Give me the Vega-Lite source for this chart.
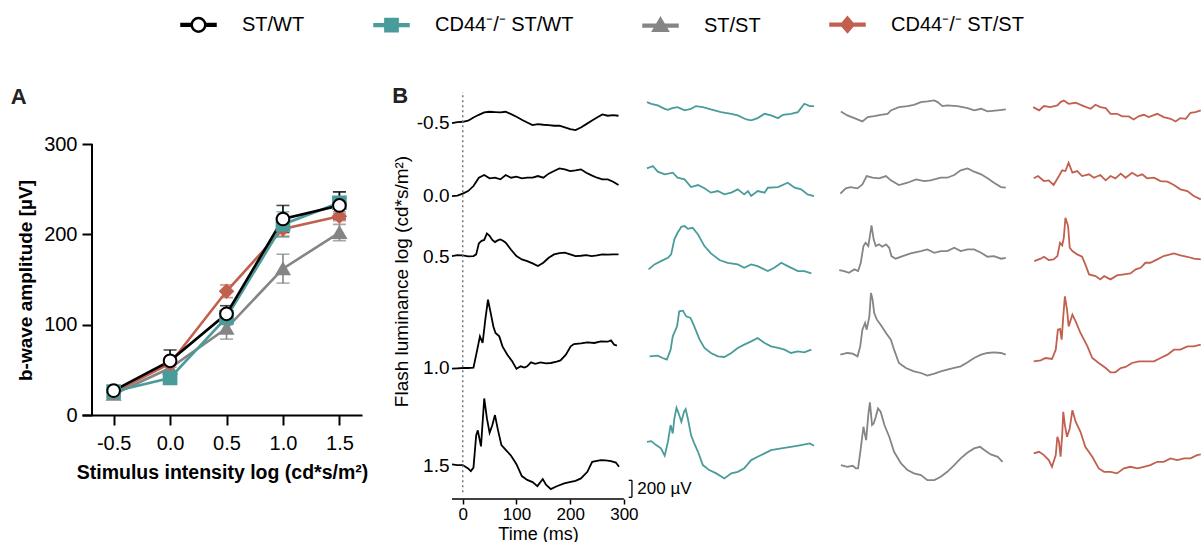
{
  "$schema": "https://vega.github.io/schema/vega-lite/v6.json",
  "background": "white",
  "padding": {"left": 10, "top": 6, "right": 0, "bottom": 0},
  "config": {
    "view": {"stroke": null},
    "font": "Liberation Sans",
    "axis": {"labelColor": "black", "titleColor": "black", "domainColor": "black", "tickColor": "black", "grid": false},
    "title": {"color": "#222222"}
  },
  "datasets": {
    "bwave": [
      {"genotype": "ST/ST", "intensity": -0.5, "mean": 23, "sem": 3},
      {"genotype": "ST/ST", "intensity": 0, "mean": 52, "sem": 5},
      {"genotype": "ST/ST", "intensity": 0.5, "mean": 96, "sem": 12},
      {"genotype": "ST/ST", "intensity": 1, "mean": 162, "sem": 16},
      {"genotype": "ST/ST", "intensity": 1.5, "mean": 202, "sem": 9},
      {"genotype": "CD44⁻/⁻ ST/ST", "intensity": -0.5, "mean": 25, "sem": 2},
      {"genotype": "CD44⁻/⁻ ST/ST", "intensity": 0, "mean": 57, "sem": 4},
      {"genotype": "CD44⁻/⁻ ST/ST", "intensity": 0.5, "mean": 137, "sem": 7},
      {"genotype": "CD44⁻/⁻ ST/ST", "intensity": 1, "mean": 206, "sem": 8},
      {"genotype": "CD44⁻/⁻ ST/ST", "intensity": 1.5, "mean": 220, "sem": 5},
      {"genotype": "CD44⁻/⁻ ST/WT", "intensity": -0.5, "mean": 26, "sem": 3},
      {"genotype": "CD44⁻/⁻ ST/WT", "intensity": 0, "mean": 41, "sem": 4},
      {"genotype": "CD44⁻/⁻ ST/WT", "intensity": 0.5, "mean": 108, "sem": 8},
      {"genotype": "CD44⁻/⁻ ST/WT", "intensity": 1, "mean": 211, "sem": 14},
      {"genotype": "CD44⁻/⁻ ST/WT", "intensity": 1.5, "mean": 235, "sem": 12},
      {"genotype": "ST/WT", "intensity": -0.5, "mean": 27, "sem": 3},
      {"genotype": "ST/WT", "intensity": 0, "mean": 60, "sem": 12},
      {"genotype": "ST/WT", "intensity": 0.5, "mean": 112, "sem": 9},
      {"genotype": "ST/WT", "intensity": 1, "mean": 217, "sem": 15},
      {"genotype": "ST/WT", "intensity": 1.5, "mean": 232, "sem": 15}
    ],
    "scalebar": [
      {"label": "200 µV", "amplitude": 200}
    ],
    "stwt": [
      {"intensity":-0.5,"time":-20,"uV":-12},{"intensity":-0.5,"time":-10,"uV":0},{"intensity":-0.5,"time":0,"uV":4},{"intensity":-0.5,"time":10,"uV":16},{"intensity":-0.5,"time":20,"uV":55},{"intensity":-0.5,"time":30,"uV":86},{"intensity":-0.5,"time":40,"uV":114},{"intensity":-0.5,"time":50,"uV":122},{"intensity":-0.5,"time":60,"uV":118},{"intensity":-0.5,"time":70,"uV":114},{"intensity":-0.5,"time":80,"uV":122},{"intensity":-0.5,"time":90,"uV":94},{"intensity":-0.5,"time":100,"uV":63},{"intensity":-0.5,"time":110,"uV":28},{"intensity":-0.5,"time":120,"uV":-4},{"intensity":-0.5,"time":130,"uV":-35},{"intensity":-0.5,"time":140,"uV":-24},{"intensity":-0.5,"time":150,"uV":-31},{"intensity":-0.5,"time":160,"uV":-35},{"intensity":-0.5,"time":170,"uV":-43},{"intensity":-0.5,"time":180,"uV":-43},{"intensity":-0.5,"time":190,"uV":-63},{"intensity":-0.5,"time":200,"uV":-83},{"intensity":-0.5,"time":210,"uV":-94},{"intensity":-0.5,"time":220,"uV":-63},{"intensity":-0.5,"time":230,"uV":-24},{"intensity":-0.5,"time":240,"uV":16},{"intensity":-0.5,"time":250,"uV":55},{"intensity":-0.5,"time":260,"uV":90},{"intensity":-0.5,"time":270,"uV":75},{"intensity":-0.5,"time":280,"uV":83},{"intensity":-0.5,"time":290,"uV":75},
      {"intensity":0,"time":-20,"uV":-12},{"intensity":0,"time":-10,"uV":-8},{"intensity":0,"time":0,"uV":16},{"intensity":0,"time":10,"uV":47},{"intensity":0,"time":20,"uV":106},{"intensity":0,"time":30,"uV":204},{"intensity":0,"time":40,"uV":236},{"intensity":0,"time":50,"uV":197},{"intensity":0,"time":60,"uV":204},{"intensity":0,"time":70,"uV":185},{"intensity":0,"time":80,"uV":236},{"intensity":0,"time":90,"uV":204},{"intensity":0,"time":100,"uV":216},{"intensity":0,"time":110,"uV":197},{"intensity":0,"time":120,"uV":204},{"intensity":0,"time":130,"uV":204},{"intensity":0,"time":140,"uV":224},{"intensity":0,"time":150,"uV":204},{"intensity":0,"time":160,"uV":252},{"intensity":0,"time":170,"uV":283},{"intensity":0,"time":180,"uV":314},{"intensity":0,"time":190,"uV":303},{"intensity":0,"time":200,"uV":283},{"intensity":0,"time":210,"uV":291},{"intensity":0,"time":220,"uV":303},{"intensity":0,"time":230,"uV":263},{"intensity":0,"time":240,"uV":232},{"intensity":0,"time":250,"uV":204},{"intensity":0,"time":260,"uV":185},{"intensity":0,"time":270,"uV":185},{"intensity":0,"time":280,"uV":157},{"intensity":0,"time":290,"uV":118},
      {"intensity":0.5,"time":-20,"uV":0},{"intensity":0.5,"time":-10,"uV":10},{"intensity":0.5,"time":0,"uV":8},{"intensity":0.5,"time":10,"uV":-4},{"intensity":0.5,"time":20,"uV":0},{"intensity":0.5,"time":25,"uV":20},{"intensity":0.5,"time":30,"uV":150},{"intensity":0.5,"time":35,"uV":180},{"intensity":0.5,"time":40,"uV":190},{"intensity":0.5,"time":45,"uV":267},{"intensity":0.5,"time":50,"uV":240},{"intensity":0.5,"time":55,"uV":190},{"intensity":0.5,"time":60,"uV":165},{"intensity":0.5,"time":65,"uV":185},{"intensity":0.5,"time":70,"uV":196},{"intensity":0.5,"time":75,"uV":180},{"intensity":0.5,"time":80,"uV":157},{"intensity":0.5,"time":90,"uV":75},{"intensity":0.5,"time":100,"uV":0},{"intensity":0.5,"time":110,"uV":-40},{"intensity":0.5,"time":120,"uV":-60},{"intensity":0.5,"time":130,"uV":-86},{"intensity":0.5,"time":140,"uV":-118},{"intensity":0.5,"time":150,"uV":-78},{"intensity":0.5,"time":160,"uV":-20},{"intensity":0.5,"time":170,"uV":20},{"intensity":0.5,"time":180,"uV":35},{"intensity":0.5,"time":190,"uV":40},{"intensity":0.5,"time":200,"uV":20},{"intensity":0.5,"time":210,"uV":0},{"intensity":0.5,"time":220,"uV":4},{"intensity":0.5,"time":230,"uV":10},{"intensity":0.5,"time":240,"uV":0},{"intensity":0.5,"time":250,"uV":8},{"intensity":0.5,"time":260,"uV":20},{"intensity":0.5,"time":270,"uV":16},{"intensity":0.5,"time":280,"uV":20},{"intensity":0.5,"time":290,"uV":20},
      {"intensity":1,"time":-20,"uV":-8},{"intensity":1,"time":-10,"uV":-4},{"intensity":1,"time":0,"uV":0},{"intensity":1,"time":10,"uV":0},{"intensity":1,"time":20,"uV":4},{"intensity":1,"time":27,"uV":216},{"intensity":1,"time":32,"uV":373},{"intensity":1,"time":37,"uV":295},{"intensity":1,"time":42,"uV":570},{"intensity":1,"time":47,"uV":805},{"intensity":1,"time":52,"uV":650},{"intensity":1,"time":57,"uV":490},{"intensity":1,"time":61,"uV":413},{"intensity":1,"time":68,"uV":373},{"intensity":1,"time":74,"uV":255},{"intensity":1,"time":83,"uV":157},{"intensity":1,"time":92,"uV":79},{"intensity":1,"time":100,"uV":-10},{"intensity":1,"time":108,"uV":20},{"intensity":1,"time":115,"uV":5},{"intensity":1,"time":120,"uV":20},{"intensity":1,"time":127,"uV":67},{"intensity":1,"time":135,"uV":50},{"intensity":1,"time":145,"uV":67},{"intensity":1,"time":155,"uV":55},{"intensity":1,"time":164,"uV":59},{"intensity":1,"time":175,"uV":75},{"intensity":1,"time":182,"uV":90},{"intensity":1,"time":192,"uV":157},{"intensity":1,"time":201,"uV":255},{"intensity":1,"time":207,"uV":283},{"intensity":1,"time":220,"uV":290},{"intensity":1,"time":232,"uV":303},{"intensity":1,"time":245,"uV":295},{"intensity":1,"time":257,"uV":314},{"intensity":1,"time":270,"uV":310},{"intensity":1,"time":276,"uV":326},{"intensity":1,"time":282,"uV":275},{"intensity":1,"time":287,"uV":263},
      {"intensity":1.5,"time":-20,"uV":8},{"intensity":1.5,"time":-10,"uV":0},{"intensity":1.5,"time":0,"uV":0},{"intensity":1.5,"time":10,"uV":-40},{"intensity":1.5,"time":15,"uV":-71},{"intensity":1.5,"time":20,"uV":-30},{"intensity":1.5,"time":25,"uV":350},{"intensity":1.5,"time":28,"uV":410},{"intensity":1.5,"time":34,"uV":220},{"intensity":1.5,"time":40,"uV":786},{"intensity":1.5,"time":45,"uV":550},{"intensity":1.5,"time":50,"uV":380},{"intensity":1.5,"time":55,"uV":470},{"intensity":1.5,"time":60,"uV":590},{"intensity":1.5,"time":65,"uV":430},{"intensity":1.5,"time":72,"uV":235},{"intensity":1.5,"time":83,"uV":160},{"intensity":1.5,"time":90,"uV":110},{"intensity":1.5,"time":100,"uV":10},{"intensity":1.5,"time":110,"uV":-130},{"intensity":1.5,"time":120,"uV":-175},{"intensity":1.5,"time":130,"uV":-200},{"intensity":1.5,"time":139,"uV":-248},{"intensity":1.5,"time":149,"uV":-165},{"intensity":1.5,"time":155,"uV":-230},{"intensity":1.5,"time":164,"uV":-283},{"intensity":1.5,"time":175,"uV":-250},{"intensity":1.5,"time":189,"uV":-216},{"intensity":1.5,"time":201,"uV":-197},{"intensity":1.5,"time":210,"uV":-185},{"intensity":1.5,"time":220,"uV":-157},{"intensity":1.5,"time":232,"uV":-79},{"intensity":1.5,"time":241,"uV":39},{"intensity":1.5,"time":250,"uV":50},{"intensity":1.5,"time":257,"uV":59},{"intensity":1.5,"time":266,"uV":55},{"intensity":1.5,"time":276,"uV":47},{"intensity":1.5,"time":285,"uV":30},{"intensity":1.5,"time":291,"uV":-20}
    ],
    "cd44stwt": [
      {"intensity":-0.5,"time":-17,"uV":236},{"intensity":-0.5,"time":-9,"uV":216},{"intensity":-0.5,"time":3,"uV":197},{"intensity":-0.5,"time":16,"uV":157},{"intensity":-0.5,"time":22,"uV":145},{"intensity":-0.5,"time":30,"uV":165},{"intensity":-0.5,"time":40,"uV":177},{"intensity":-0.5,"time":53,"uV":138},{"intensity":-0.5,"time":65,"uV":157},{"intensity":-0.5,"time":74,"uV":189},{"intensity":-0.5,"time":87,"uV":177},{"intensity":-0.5,"time":102,"uV":149},{"intensity":-0.5,"time":121,"uV":118},{"intensity":-0.5,"time":140,"uV":98},{"intensity":-0.5,"time":152,"uV":79},{"intensity":-0.5,"time":168,"uV":31},{"intensity":-0.5,"time":177,"uV":20},{"intensity":-0.5,"time":189,"uV":47},{"intensity":-0.5,"time":202,"uV":98},{"intensity":-0.5,"time":214,"uV":79},{"intensity":-0.5,"time":227,"uV":47},{"intensity":-0.5,"time":236,"uV":86},{"intensity":-0.5,"time":251,"uV":98},{"intensity":-0.5,"time":264,"uV":118},{"intensity":-0.5,"time":276,"uV":216},{"intensity":-0.5,"time":286,"uV":189},{"intensity":-0.5,"time":294,"uV":189},
      {"intensity":0,"time":-17,"uV":314},{"intensity":0,"time":-6,"uV":342},{"intensity":0,"time":3,"uV":275},{"intensity":0,"time":16,"uV":244},{"intensity":0,"time":31,"uV":263},{"intensity":0,"time":40,"uV":204},{"intensity":0,"time":53,"uV":185},{"intensity":0,"time":65,"uV":94},{"intensity":0,"time":78,"uV":118},{"intensity":0,"time":90,"uV":79},{"intensity":0,"time":102,"uV":28},{"intensity":0,"time":115,"uV":47},{"intensity":0,"time":127,"uV":8},{"intensity":0,"time":140,"uV":28},{"intensity":0,"time":152,"uV":67},{"intensity":0,"time":164,"uV":8},{"intensity":0,"time":171,"uV":47},{"intensity":0,"time":177,"uV":-12},{"intensity":0,"time":189,"uV":47},{"intensity":0,"time":202,"uV":28},{"intensity":0,"time":208,"uV":86},{"intensity":0,"time":227,"uV":94},{"intensity":0,"time":245,"uV":145},{"intensity":0,"time":258,"uV":86},{"intensity":0,"time":270,"uV":67},{"intensity":0,"time":282,"uV":8},{"intensity":0,"time":294,"uV":-12},
      {"intensity":0.5,"time":-14,"uV":-157},{"intensity":0.5,"time":-3,"uV":-98},{"intensity":0.5,"time":9,"uV":-59},{"intensity":0.5,"time":22,"uV":-20},{"intensity":0.5,"time":28,"uV":20},{"intensity":0.5,"time":34,"uV":197},{"intensity":0.5,"time":40,"uV":275},{"intensity":0.5,"time":47,"uV":346},{"intensity":0.5,"time":53,"uV":354},{"intensity":0.5,"time":59,"uV":322},{"intensity":0.5,"time":68,"uV":334},{"intensity":0.5,"time":78,"uV":255},{"intensity":0.5,"time":90,"uV":118},{"intensity":0.5,"time":102,"uV":31},{"intensity":0.5,"time":118,"uV":-47},{"intensity":0.5,"time":133,"uV":-79},{"intensity":0.5,"time":152,"uV":-98},{"intensity":0.5,"time":164,"uV":-138},{"intensity":0.5,"time":177,"uV":-98},{"intensity":0.5,"time":189,"uV":-118},{"intensity":0.5,"time":208,"uV":-177},{"intensity":0.5,"time":220,"uV":-138},{"intensity":0.5,"time":233,"uV":-79},{"intensity":0.5,"time":245,"uV":-118},{"intensity":0.5,"time":264,"uV":-177},{"intensity":0.5,"time":276,"uV":-177},{"intensity":0.5,"time":289,"uV":-204},
      {"intensity":1,"time":-12,"uV":138},{"intensity":1,"time":3,"uV":145},{"intensity":1,"time":12,"uV":118},{"intensity":1,"time":20,"uV":98},{"intensity":1,"time":27,"uV":216},{"intensity":1,"time":31,"uV":373},{"intensity":1,"time":35,"uV":432},{"intensity":1,"time":39,"uV":491},{"intensity":1,"time":43,"uV":668},{"intensity":1,"time":50,"uV":676},{"intensity":1,"time":56,"uV":609},{"intensity":1,"time":64,"uV":590},{"intensity":1,"time":71,"uV":491},{"intensity":1,"time":81,"uV":334},{"intensity":1,"time":90,"uV":236},{"intensity":1,"time":102,"uV":177},{"intensity":1,"time":115,"uV":138},{"intensity":1,"time":127,"uV":130},{"intensity":1,"time":140,"uV":177},{"intensity":1,"time":152,"uV":236},{"intensity":1,"time":164,"uV":275},{"intensity":1,"time":177,"uV":314},{"intensity":1,"time":189,"uV":354},{"intensity":1,"time":202,"uV":295},{"intensity":1,"time":214,"uV":255},{"intensity":1,"time":227,"uV":236},{"intensity":1,"time":239,"uV":216},{"intensity":1,"time":251,"uV":177},{"intensity":1,"time":264,"uV":197},{"intensity":1,"time":276,"uV":185},{"intensity":1,"time":289,"uV":216},
      {"intensity":1.5,"time":-17,"uV":275},{"intensity":1.5,"time":-9,"uV":283},{"intensity":1.5,"time":0,"uV":236},{"intensity":1.5,"time":9,"uV":197},{"intensity":1.5,"time":16,"uV":110},{"intensity":1.5,"time":22,"uV":275},{"intensity":1.5,"time":27,"uV":472},{"intensity":1.5,"time":31,"uV":373},{"intensity":1.5,"time":34,"uV":550},{"intensity":1.5,"time":38,"uV":676},{"intensity":1.5,"time":43,"uV":590},{"intensity":1.5,"time":47,"uV":511},{"intensity":1.5,"time":52,"uV":629},{"intensity":1.5,"time":55,"uV":660},{"intensity":1.5,"time":59,"uV":550},{"intensity":1.5,"time":65,"uV":354},{"intensity":1.5,"time":71,"uV":255},{"intensity":1.5,"time":78,"uV":157},{"intensity":1.5,"time":87,"uV":0},{"intensity":1.5,"time":99,"uV":-59},{"intensity":1.5,"time":112,"uV":-98},{"intensity":1.5,"time":127,"uV":-157},{"intensity":1.5,"time":140,"uV":-98},{"intensity":1.5,"time":152,"uV":-79},{"intensity":1.5,"time":164,"uV":-39},{"intensity":1.5,"time":177,"uV":59},{"intensity":1.5,"time":189,"uV":98},{"intensity":1.5,"time":202,"uV":138},{"intensity":1.5,"time":214,"uV":177},{"intensity":1.5,"time":233,"uV":197},{"intensity":1.5,"time":251,"uV":216},{"intensity":1.5,"time":270,"uV":236},{"intensity":1.5,"time":286,"uV":255},{"intensity":1.5,"time":294,"uV":228}
    ],
    "stst": [
      {"intensity":-0.5,"time":-16,"uV":126},{"intensity":-0.5,"time":-4,"uV":79},{"intensity":-0.5,"time":9,"uV":47},{"intensity":-0.5,"time":24,"uV":8},{"intensity":-0.5,"time":34,"uV":59},{"intensity":-0.5,"time":46,"uV":71},{"intensity":-0.5,"time":58,"uV":86},{"intensity":-0.5,"time":71,"uV":98},{"intensity":-0.5,"time":77,"uV":138},{"intensity":-0.5,"time":92,"uV":177},{"intensity":-0.5,"time":108,"uV":189},{"intensity":-0.5,"time":120,"uV":204},{"intensity":-0.5,"time":133,"uV":236},{"intensity":-0.5,"time":145,"uV":244},{"intensity":-0.5,"time":158,"uV":255},{"intensity":-0.5,"time":164,"uV":236},{"intensity":-0.5,"time":173,"uV":189},{"intensity":-0.5,"time":182,"uV":197},{"intensity":-0.5,"time":201,"uV":189},{"intensity":-0.5,"time":220,"uV":165},{"intensity":-0.5,"time":232,"uV":138},{"intensity":-0.5,"time":245,"uV":157},{"intensity":-0.5,"time":257,"uV":126},{"intensity":-0.5,"time":276,"uV":138},{"intensity":-0.5,"time":291,"uV":149},
      {"intensity":0,"time":-17,"uV":16},{"intensity":0,"time":-7,"uV":79},{"intensity":0,"time":2,"uV":94},{"intensity":0,"time":15,"uV":79},{"intensity":0,"time":24,"uV":126},{"intensity":0,"time":32,"uV":224},{"intensity":0,"time":43,"uV":204},{"intensity":0,"time":55,"uV":197},{"intensity":0,"time":68,"uV":224},{"intensity":0,"time":77,"uV":173},{"intensity":0,"time":92,"uV":118},{"intensity":0,"time":108,"uV":145},{"intensity":0,"time":124,"uV":185},{"intensity":0,"time":139,"uV":165},{"intensity":0,"time":151,"uV":173},{"intensity":0,"time":170,"uV":204},{"intensity":0,"time":182,"uV":204},{"intensity":0,"time":195,"uV":236},{"intensity":0,"time":207,"uV":291},{"intensity":0,"time":220,"uV":314},{"intensity":0,"time":232,"uV":275},{"intensity":0,"time":245,"uV":244},{"intensity":0,"time":257,"uV":197},{"intensity":0,"time":269,"uV":145},{"intensity":0,"time":282,"uV":94},{"intensity":0,"time":291,"uV":86},
      {"intensity":0.5,"time":-19,"uV":-165},{"intensity":0.5,"time":-10,"uV":-177},{"intensity":0.5,"time":-1,"uV":-197},{"intensity":0.5,"time":9,"uV":-157},{"intensity":0.5,"time":16,"uV":-177},{"intensity":0.5,"time":21,"uV":-79},{"intensity":0.5,"time":26,"uV":118},{"intensity":0.5,"time":30,"uV":157},{"intensity":0.5,"time":35,"uV":118},{"intensity":0.5,"time":38,"uV":236},{"intensity":0.5,"time":41,"uV":362},{"intensity":0.5,"time":45,"uV":197},{"intensity":0.5,"time":49,"uV":118},{"intensity":0.5,"time":55,"uV":138},{"intensity":0.5,"time":61,"uV":110},{"intensity":0.5,"time":68,"uV":138},{"intensity":0.5,"time":74,"uV":98},{"intensity":0.5,"time":78,"uV":0},{"intensity":0.5,"time":86,"uV":-31},{"intensity":0.5,"time":99,"uV":0},{"intensity":0.5,"time":114,"uV":31},{"intensity":0.5,"time":133,"uV":59},{"intensity":0.5,"time":145,"uV":79},{"intensity":0.5,"time":158,"uV":39},{"intensity":0.5,"time":170,"uV":59},{"intensity":0.5,"time":182,"uV":59},{"intensity":0.5,"time":195,"uV":98},{"intensity":0.5,"time":207,"uV":59},{"intensity":0.5,"time":220,"uV":79},{"intensity":0.5,"time":232,"uV":79},{"intensity":0.5,"time":245,"uV":39},{"intensity":0.5,"time":257,"uV":-8},{"intensity":0.5,"time":269,"uV":0},{"intensity":0.5,"time":282,"uV":-31},{"intensity":0.5,"time":291,"uV":-20},
      {"intensity":1,"time":-17,"uV":157},{"intensity":1,"time":-4,"uV":177},{"intensity":1,"time":6,"uV":169},{"intensity":1,"time":15,"uV":138},{"intensity":1,"time":20,"uV":255},{"intensity":1,"time":24,"uV":452},{"intensity":1,"time":29,"uV":531},{"intensity":1,"time":32,"uV":452},{"intensity":1,"time":37,"uV":609},{"intensity":1,"time":40,"uV":884},{"intensity":1,"time":43,"uV":806},{"intensity":1,"time":46,"uV":648},{"intensity":1,"time":51,"uV":570},{"intensity":1,"time":58,"uV":511},{"intensity":1,"time":68,"uV":413},{"intensity":1,"time":77,"uV":334},{"intensity":1,"time":83,"uV":216},{"intensity":1,"time":92,"uV":59},{"intensity":1,"time":105,"uV":0},{"intensity":1,"time":120,"uV":-39},{"intensity":1,"time":133,"uV":-59},{"intensity":1,"time":145,"uV":-90},{"intensity":1,"time":158,"uV":-67},{"intensity":1,"time":170,"uV":-39},{"intensity":1,"time":182,"uV":-20},{"intensity":1,"time":195,"uV":0},{"intensity":1,"time":207,"uV":20},{"intensity":1,"time":220,"uV":67},{"intensity":1,"time":232,"uV":118},{"intensity":1,"time":245,"uV":157},{"intensity":1,"time":257,"uV":177},{"intensity":1,"time":269,"uV":185},{"intensity":1,"time":282,"uV":177},{"intensity":1,"time":291,"uV":157},
      {"intensity":1.5,"time":-16,"uV":0},{"intensity":1.5,"time":-4,"uV":-20},{"intensity":1.5,"time":6,"uV":-8},{"intensity":1.5,"time":12,"uV":-39},{"intensity":1.5,"time":16,"uV":-39},{"intensity":1.5,"time":21,"uV":197},{"intensity":1.5,"time":26,"uV":452},{"intensity":1.5,"time":29,"uV":354},{"intensity":1.5,"time":31,"uV":295},{"intensity":1.5,"time":35,"uV":590},{"intensity":1.5,"time":38,"uV":739},{"intensity":1.5,"time":42,"uV":472},{"intensity":1.5,"time":45,"uV":491},{"intensity":1.5,"time":49,"uV":570},{"intensity":1.5,"time":53,"uV":668},{"intensity":1.5,"time":58,"uV":629},{"intensity":1.5,"time":65,"uV":472},{"intensity":1.5,"time":74,"uV":334},{"intensity":1.5,"time":83,"uV":157},{"intensity":1.5,"time":96,"uV":20},{"intensity":1.5,"time":108,"uV":-59},{"intensity":1.5,"time":120,"uV":-98},{"intensity":1.5,"time":133,"uV":-118},{"intensity":1.5,"time":145,"uV":-177},{"intensity":1.5,"time":158,"uV":-177},{"intensity":1.5,"time":170,"uV":-138},{"intensity":1.5,"time":182,"uV":-79},{"intensity":1.5,"time":195,"uV":0},{"intensity":1.5,"time":207,"uV":79},{"intensity":1.5,"time":220,"uV":149},{"intensity":1.5,"time":232,"uV":197},{"intensity":1.5,"time":243,"uV":216},{"intensity":1.5,"time":251,"uV":177},{"intensity":1.5,"time":263,"uV":126},{"intensity":1.5,"time":276,"uV":98},{"intensity":1.5,"time":285,"uV":39}
    ],
    "cd44stst": [
      {"intensity":-0.5,"time":-18,"uV":177},{"intensity":-0.5,"time":-7,"uV":138},{"intensity":-0.5,"time":2,"uV":189},{"intensity":-0.5,"time":14,"uV":177},{"intensity":-0.5,"time":27,"uV":197},{"intensity":-0.5,"time":33,"uV":236},{"intensity":-0.5,"time":39,"uV":255},{"intensity":-0.5,"time":48,"uV":216},{"intensity":-0.5,"time":61,"uV":228},{"intensity":-0.5,"time":76,"uV":189},{"intensity":-0.5,"time":89,"uV":157},{"intensity":-0.5,"time":98,"uV":204},{"intensity":-0.5,"time":107,"uV":177},{"intensity":-0.5,"time":117,"uV":165},{"intensity":-0.5,"time":126,"uV":98},{"intensity":-0.5,"time":138,"uV":98},{"intensity":-0.5,"time":148,"uV":67},{"intensity":-0.5,"time":160,"uV":67},{"intensity":-0.5,"time":169,"uV":31},{"intensity":-0.5,"time":179,"uV":71},{"intensity":-0.5,"time":188,"uV":86},{"intensity":-0.5,"time":197,"uV":59},{"intensity":-0.5,"time":213,"uV":98},{"intensity":-0.5,"time":225,"uV":59},{"intensity":-0.5,"time":238,"uV":39},{"intensity":-0.5,"time":247,"uV":8},{"intensity":-0.5,"time":256,"uV":47},{"intensity":-0.5,"time":266,"uV":39},{"intensity":-0.5,"time":275,"uV":110},{"intensity":-0.5,"time":284,"uV":118},{"intensity":-0.5,"time":294,"uV":138},
      {"intensity":0,"time":-17,"uV":197},{"intensity":0,"time":-9,"uV":224},{"intensity":0,"time":2,"uV":165},{"intensity":0,"time":11,"uV":173},{"intensity":0,"time":20,"uV":118},{"intensity":0,"time":30,"uV":224},{"intensity":0,"time":36,"uV":291},{"intensity":0,"time":42,"uV":283},{"intensity":0,"time":48,"uV":381},{"intensity":0,"time":55,"uV":263},{"intensity":0,"time":64,"uV":283},{"intensity":0,"time":73,"uV":224},{"intensity":0,"time":86,"uV":244},{"intensity":0,"time":95,"uV":204},{"intensity":0,"time":107,"uV":236},{"intensity":0,"time":117,"uV":173},{"intensity":0,"time":126,"uV":224},{"intensity":0,"time":135,"uV":197},{"intensity":0,"time":145,"uV":252},{"intensity":0,"time":154,"uV":204},{"intensity":0,"time":166,"uV":263},{"intensity":0,"time":176,"uV":224},{"intensity":0,"time":185,"uV":244},{"intensity":0,"time":194,"uV":197},{"intensity":0,"time":207,"uV":204},{"intensity":0,"time":219,"uV":165},{"intensity":0,"time":232,"uV":157},{"intensity":0,"time":244,"uV":118},{"intensity":0,"time":256,"uV":67},{"intensity":0,"time":269,"uV":47},{"intensity":0,"time":281,"uV":-12},{"intensity":0,"time":294,"uV":-51},
      {"intensity":0.5,"time":-16,"uV":-59},{"intensity":0.5,"time":-4,"uV":-31},{"intensity":0.5,"time":2,"uV":-8},{"intensity":0.5,"time":11,"uV":-47},{"intensity":0.5,"time":20,"uV":-39},{"intensity":0.5,"time":27,"uV":0},{"intensity":0.5,"time":32,"uV":157},{"intensity":0.5,"time":36,"uV":126},{"intensity":0.5,"time":39,"uV":216},{"intensity":0.5,"time":42,"uV":452},{"intensity":0.5,"time":47,"uV":354},{"intensity":0.5,"time":50,"uV":98},{"intensity":0.5,"time":55,"uV":59},{"intensity":0.5,"time":64,"uV":20},{"intensity":0.5,"time":73,"uV":-8},{"intensity":0.5,"time":79,"uV":-98},{"intensity":0.5,"time":86,"uV":-216},{"intensity":0.5,"time":98,"uV":-236},{"intensity":0.5,"time":107,"uV":-275},{"intensity":0.5,"time":114,"uV":-236},{"intensity":0.5,"time":126,"uV":-275},{"intensity":0.5,"time":138,"uV":-228},{"intensity":0.5,"time":151,"uV":-216},{"intensity":0.5,"time":163,"uV":-204},{"intensity":0.5,"time":173,"uV":-157},{"intensity":0.5,"time":182,"uV":-138},{"intensity":0.5,"time":191,"uV":-79},{"intensity":0.5,"time":200,"uV":-79},{"intensity":0.5,"time":213,"uV":-39},{"intensity":0.5,"time":225,"uV":0},{"intensity":0.5,"time":244,"uV":31},{"intensity":0.5,"time":256,"uV":8},{"intensity":0.5,"time":269,"uV":-8},{"intensity":0.5,"time":281,"uV":-31},{"intensity":0.5,"time":294,"uV":-39},
      {"intensity":1,"time":-17,"uV":79},{"intensity":1,"time":-4,"uV":90},{"intensity":1,"time":5,"uV":118},{"intensity":1,"time":17,"uV":106},{"intensity":1,"time":24,"uV":216},{"intensity":1,"time":28,"uV":452},{"intensity":1,"time":32,"uV":460},{"intensity":1,"time":35,"uV":334},{"intensity":1,"time":38,"uV":609},{"intensity":1,"time":41,"uV":845},{"intensity":1,"time":45,"uV":688},{"intensity":1,"time":48,"uV":491},{"intensity":1,"time":55,"uV":629},{"intensity":1,"time":61,"uV":550},{"intensity":1,"time":70,"uV":413},{"intensity":1,"time":83,"uV":255},{"intensity":1,"time":92,"uV":118},{"intensity":1,"time":104,"uV":59},{"intensity":1,"time":117,"uV":0},{"intensity":1,"time":126,"uV":-51},{"intensity":1,"time":135,"uV":-51},{"intensity":1,"time":145,"uV":0},{"intensity":1,"time":154,"uV":12},{"intensity":1,"time":166,"uV":59},{"intensity":1,"time":179,"uV":79},{"intensity":1,"time":194,"uV":79},{"intensity":1,"time":207,"uV":79},{"intensity":1,"time":219,"uV":118},{"intensity":1,"time":232,"uV":157},{"intensity":1,"time":244,"uV":216},{"intensity":1,"time":256,"uV":216},{"intensity":1,"time":269,"uV":255},{"intensity":1,"time":281,"uV":255},{"intensity":1,"time":294,"uV":275},
      {"intensity":1.5,"time":-17,"uV":138},{"intensity":1.5,"time":-7,"uV":157},{"intensity":1.5,"time":2,"uV":118},{"intensity":1.5,"time":11,"uV":59},{"intensity":1.5,"time":17,"uV":-20},{"intensity":1.5,"time":24,"uV":118},{"intensity":1.5,"time":27,"uV":334},{"intensity":1.5,"time":30,"uV":275},{"intensity":1.5,"time":33,"uV":98},{"intensity":1.5,"time":36,"uV":354},{"intensity":1.5,"time":38,"uV":629},{"intensity":1.5,"time":41,"uV":472},{"intensity":1.5,"time":45,"uV":334},{"intensity":1.5,"time":50,"uV":432},{"intensity":1.5,"time":55,"uV":648},{"intensity":1.5,"time":61,"uV":511},{"intensity":1.5,"time":70,"uV":393},{"intensity":1.5,"time":79,"uV":216},{"intensity":1.5,"time":92,"uV":98},{"intensity":1.5,"time":104,"uV":-39},{"intensity":1.5,"time":114,"uV":-79},{"intensity":1.5,"time":126,"uV":-79},{"intensity":1.5,"time":138,"uV":-98},{"intensity":1.5,"time":151,"uV":-39},{"intensity":1.5,"time":163,"uV":-20},{"intensity":1.5,"time":176,"uV":-39},{"intensity":1.5,"time":188,"uV":-20},{"intensity":1.5,"time":200,"uV":0},{"intensity":1.5,"time":213,"uV":39},{"intensity":1.5,"time":225,"uV":39},{"intensity":1.5,"time":238,"uV":79},{"intensity":1.5,"time":250,"uV":59},{"intensity":1.5,"time":263,"uV":79},{"intensity":1.5,"time":275,"uV":79},{"intensity":1.5,"time":287,"uV":118},{"intensity":1.5,"time":294,"uV":126}
    ]
  },
  "resolve": {
    "scale": {"shape": "independent", "fill": "independent", "stroke": "independent", "color": "independent"},
    "legend": {"shape": "independent", "fill": "independent", "stroke": "independent", "color": "independent"}
  },
  "spacing": 48,
  "vconcat": [
    {
      "width": 1,
      "height": 1,
      "data": {"name": "bwave"},
      "transform": [{"filter": "false"}],
      "mark": {"type": "point", "filled": true, "strokeWidth": 2.5, "opacity": 1},
      "encoding": {
        "shape": {
          "field": "genotype", "type": "nominal",
          "scale": {
            "domain": ["ST/WT", "CD44⁻/⁻ ST/WT", "ST/ST", "CD44⁻/⁻ ST/ST"],
            "range": [
              "M-1,-0.05H-0.4V0.05H-1ZM0.4,-0.05H1V0.05H0.4ZM-0.4,0A0.4,0.4,0,1,1,0.4,0A0.4,0.4,0,1,1,-0.4,0Z",
              "M-1,-0.05H1V0.05H-1ZM-0.36,-0.36H0.36V0.36H-0.36Z",
              "M-1,-0.05H1V0.05H-1ZM0,-0.42L0.42,0.3H-0.42Z",
              "M-1,-0.05H1V0.05H-1ZM0,-0.42L0.36,0L0,0.42L-0.36,0Z"
            ]
          },
          "legend": {"orient": "none", "legendX": 98, "legendY": 0, "direction": "horizontal", "columns": 4, "title": null, "labelFontSize": 20, "labelColor": "black", "labelLimit": 400, "symbolSize": 1156, "symbolStrokeWidth": 2.5, "labelOffset": 25, "columnPadding": 64}
        },
        "fill": {
          "field": "genotype", "type": "nominal",
          "scale": {"domain": ["ST/WT", "CD44⁻/⁻ ST/WT", "ST/ST", "CD44⁻/⁻ ST/ST"], "range": ["#ffffff", "#4a9c9b", "#858585", "#c1604e"]},
          "legend": {"orient": "none", "legendX": 98, "legendY": 0, "direction": "horizontal", "columns": 4, "title": null, "labelFontSize": 20, "labelColor": "black", "labelLimit": 400, "symbolSize": 1156, "symbolStrokeWidth": 2.5, "labelOffset": 25, "columnPadding": 64}
        },
        "stroke": {
          "field": "genotype", "type": "nominal",
          "scale": {"domain": ["ST/WT", "CD44⁻/⁻ ST/WT", "ST/ST", "CD44⁻/⁻ ST/ST"], "range": ["#000000", "#4a9c9b", "#858585", "#c1604e"]},
          "legend": {"orient": "none", "legendX": 98, "legendY": 0, "direction": "horizontal", "columns": 4, "title": null, "labelFontSize": 20, "labelColor": "black", "labelLimit": 400, "symbolSize": 1156, "symbolStrokeWidth": 2.5, "labelOffset": 25, "columnPadding": 64}
        }
      }
    },
    {
      "spacing": 24,
      "hconcat": [
        {
          "width": 280,
          "height": 323,
          "title": {"text": "A", "anchor": "start", "frame": "bounds", "fontSize": 22, "fontWeight": "bold", "offset": -17, "dx": -6},
          "data": {"name": "bwave"},
          "encoding": {
            "x": {
              "field": "intensity", "type": "quantitative",
              "scale": {"domain": [-0.78, 1.70], "nice": false, "zero": false},
              "axis": {"values": [-0.5, 0, 0.5, 1, 1.5], "labelExpr": "datum.value < 0 ? '-' + format(-datum.value, '.1f') : format(datum.value, '.1f')", "domainWidth": 2, "tickWidth": 2, "tickSize": 10, "labelFontSize": 20, "labelPadding": 8, "labelFlush": false, "title": "Stimulus intensity log (cd*s/m²)", "titleFontSize": 19.5, "titleFontWeight": "bold", "titlePadding": 10}
            },
            "y": {
              "field": "mean", "type": "quantitative",
              "scale": {"domain": [0, 357.6], "nice": false},
              "axis": {"values": [0, 100, 200, 300], "offset": -10, "domain": false, "tickWidth": 2, "tickSize": 10, "labelFontSize": 20, "labelPadding": 5, "title": "b-wave amplitude [µV]", "titleFontSize": 19, "titleFontWeight": "bold", "titlePadding": 8, "titleY": 188}
            }
          },
          "layer": [
            {
              "mark": {"type": "rule", "color": "#000000", "strokeWidth": 2},
              "encoding": {"x": {"datum": -0.6914, "type": "quantitative"}, "y": {"datum": 0, "type": "quantitative"}, "y2": {"datum": 300}}
            },
            {
              "mark": {"type": "errorbar", "ticks": {"size": 13, "thickness": 1.6}, "rule": {"strokeWidth": 1.6}},
              "encoding": {
                "yError": {"field": "sem"},
                "color": {"field": "genotype", "type": "nominal", "scale": {"domain": ["ST/WT", "CD44⁻/⁻ ST/WT", "ST/ST", "CD44⁻/⁻ ST/ST"], "range": ["#000000", "#4a9c9b", "#858585", "#c1604e"]}, "legend": null}
              }
            },
            {
              "mark": {"type": "line", "strokeWidth": 2.6},
              "encoding": {
                "color": {"field": "genotype", "type": "nominal", "scale": {"domain": ["ST/WT", "CD44⁻/⁻ ST/WT", "ST/ST", "CD44⁻/⁻ ST/ST"], "range": ["#000000", "#4a9c9b", "#858585", "#c1604e"]}, "legend": null}
              }
            },
            {
              "mark": {"type": "point", "filled": true, "size": 160, "strokeWidth": 2, "opacity": 1},
              "encoding": {
                "shape": {"field": "genotype", "type": "nominal", "scale": {"domain": ["ST/WT", "CD44⁻/⁻ ST/WT", "ST/ST", "CD44⁻/⁻ ST/ST"], "range": ["circle", "square", "triangle-up", "diamond"]}, "legend": null},
                "fill": {"field": "genotype", "type": "nominal", "scale": {"domain": ["ST/WT", "CD44⁻/⁻ ST/WT", "ST/ST", "CD44⁻/⁻ ST/ST"], "range": ["#ffffff", "#4a9c9b", "#858585", "#c1604e"]}, "legend": null},
                "stroke": {"field": "genotype", "type": "nominal", "scale": {"domain": ["ST/WT", "CD44⁻/⁻ ST/WT", "ST/ST", "CD44⁻/⁻ ST/ST"], "range": ["#000000", "#4a9c9b", "#858585", "#c1604e"]}, "legend": null}
              }
            }
          ]
        },
        {
          "width": 752,
          "height": 407,
          "title": {"text": "B", "anchor": "start", "frame": "bounds", "fontSize": 22, "fontWeight": "bold", "offset": -17, "dx": 0},
          "layer": [
            {
              "data": {"name": "stwt"},
              "transform": [
                {"calculate": "datum.time", "as": "xpos"},
                {"calculate": "datum.uV + (datum.intensity == -0.5 ? 4445 : datum.intensity == 0 ? 3585 : datum.intensity == 0.5 ? 2865 : datum.intensity == 1 ? 1545 : 400)", "as": "ypos"}
              ],
              "mark": {"type": "line", "color": "#000000", "strokeWidth": 1.8},
              "encoding": {
                "x": {
                  "field": "xpos", "type": "quantitative",
                  "scale": {"domain": [-20, 1380], "nice": false, "zero": false},
                  "axis": {"values": [0, 100, 200, 300], "format": "d", "domain": false, "tickSize": 5, "tickWidth": 1.5, "labelFontSize": 17, "labelPadding": 2, "labelFlush": false, "title": "Time (ms)", "titleFontSize": 18, "titleFontWeight": "normal", "titleX": 86, "titleAlign": "center", "titlePadding": 3}
                },
                "y": {
                  "field": "ypos", "type": "quantitative",
                  "scale": {"domain": [0, 4800], "nice": false, "zero": false},
                  "axis": {"values": [400, 1545, 2865, 3585, 4445], "labelExpr": "datum.value == 4445 ? '-0.5' : datum.value == 3585 ? '0.0' : datum.value == 2865 ? '0.5' : datum.value == 1545 ? '1.0' : '1.5'", "domain": false, "ticks": false, "labelFontSize": 19, "labelPadding": 3, "title": "Flash luminance log (cd*s/m²)", "titleFontSize": 19, "titleFontWeight": "normal", "titlePadding": 5, "titleY": 189}
                },
                "detail": {"field": "intensity"}
              }
            },
            {
              "data": {"name": "cd44stwt"},
              "transform": [
                {"calculate": "datum.time + 360", "as": "xpos"},
                {"calculate": "datum.uV + (datum.intensity == -0.5 ? 4445 : datum.intensity == 0 ? 3585 : datum.intensity == 0.5 ? 2865 : datum.intensity == 1 ? 1545 : 400)", "as": "ypos"}
              ],
              "mark": {"type": "line", "color": "#4a9c9b", "strokeWidth": 1.8},
              "encoding": {"x": {"field": "xpos", "type": "quantitative"}, "y": {"field": "ypos", "type": "quantitative"}, "detail": {"field": "intensity"}}
            },
            {
              "data": {"name": "stst"},
              "transform": [
                {"calculate": "datum.time + 720", "as": "xpos"},
                {"calculate": "datum.uV + (datum.intensity == -0.5 ? 4445 : datum.intensity == 0 ? 3585 : datum.intensity == 0.5 ? 2865 : datum.intensity == 1 ? 1545 : 400)", "as": "ypos"}
              ],
              "mark": {"type": "line", "color": "#858585", "strokeWidth": 1.8},
              "encoding": {"x": {"field": "xpos", "type": "quantitative"}, "y": {"field": "ypos", "type": "quantitative"}, "detail": {"field": "intensity"}}
            },
            {
              "data": {"name": "cd44stst"},
              "transform": [
                {"calculate": "datum.time + 1080", "as": "xpos"},
                {"calculate": "datum.uV + (datum.intensity == -0.5 ? 4445 : datum.intensity == 0 ? 3585 : datum.intensity == 0.5 ? 2865 : datum.intensity == 1 ? 1545 : 400)", "as": "ypos"}
              ],
              "mark": {"type": "line", "color": "#c1604e", "strokeWidth": 1.8},
              "encoding": {"x": {"field": "xpos", "type": "quantitative"}, "y": {"field": "ypos", "type": "quantitative"}, "detail": {"field": "intensity"}}
            },
            {
              "data": {"name": "scalebar"},
              "mark": {"type": "rule", "color": "#777777", "strokeWidth": 1.5, "strokeDash": [2, 3]},
              "encoding": {"x": {"datum": 0, "type": "quantitative"}, "y": {"datum": 80, "type": "quantitative"}, "y2": {"datum": 4800}}
            },
            {
              "data": {"name": "scalebar"},
              "mark": {"type": "rule", "color": "#000000", "strokeWidth": 1.5},
              "encoding": {"x": {"datum": -20, "type": "quantitative"}, "x2": {"datum": 300}, "y": {"datum": 0, "type": "quantitative"}}
            },
            {
              "data": {"name": "scalebar"},
              "mark": {"type": "rule", "color": "#000000", "strokeWidth": 1.3},
              "encoding": {"x": {"datum": 315, "type": "quantitative"}, "y": {"datum": 20, "type": "quantitative"}, "y2": {"datum": 220}}
            },
            {
              "data": {"name": "scalebar"},
              "mark": {"type": "rule", "color": "#000000", "strokeWidth": 1.3},
              "encoding": {"x": {"datum": 309, "type": "quantitative"}, "x2": {"datum": 315}, "y": {"datum": 20, "type": "quantitative"}}
            },
            {
              "data": {"name": "scalebar"},
              "mark": {"type": "rule", "color": "#000000", "strokeWidth": 1.3},
              "encoding": {"x": {"datum": 309, "type": "quantitative"}, "x2": {"datum": 315}, "y": {"datum": 220, "type": "quantitative"}}
            },
            {
              "data": {"name": "scalebar"},
              "mark": {"type": "text", "align": "left", "baseline": "middle", "fontSize": 17, "color": "#000000"},
              "encoding": {"x": {"datum": 325, "type": "quantitative"}, "y": {"datum": 120, "type": "quantitative"}, "text": {"field": "label"}}
            }
          ]
        }
      ]
    }
  ]
}
